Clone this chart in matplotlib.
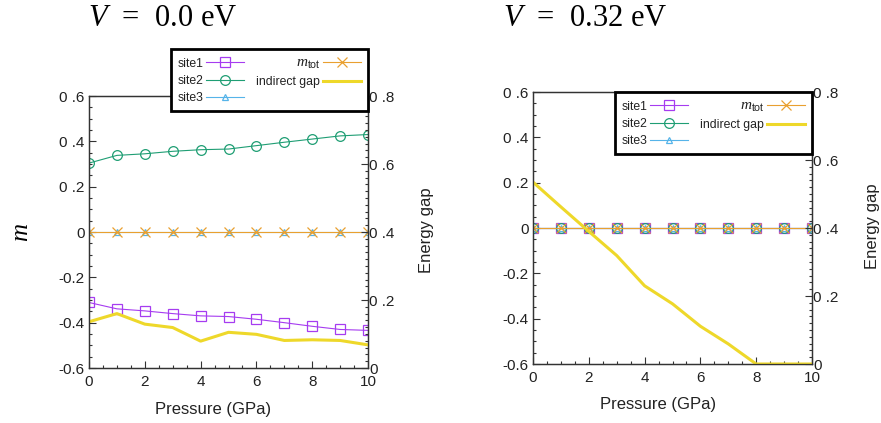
import matplotlib
matplotlib.use("Agg")
import matplotlib.pyplot as plt
from matplotlib.ticker import MultipleLocator

plt.rcParams['font.family'] = ['Liberation Sans', 'DejaVu Sans']
plt.rcParams['mathtext.fontset'] = 'custom'
plt.rcParams['mathtext.rm'] = 'Liberation Serif'
plt.rcParams['mathtext.it'] = 'Liberation Serif:italic'
plt.rcParams['mathtext.sf'] = 'Liberation Sans'

# data
pressure = [0, 1, 2, 3, 4, 5, 6, 7, 8, 9, 10]

site1_v0 = [-0.311, -0.339, -0.348, -0.360, -0.370, -0.373, -0.385, -0.400, -0.416, -0.430, -0.434]
site2_v0 = [0.304, 0.338, 0.345, 0.356, 0.363, 0.366, 0.381, 0.396, 0.410, 0.424, 0.430]
site3_v0 = [0, 0, 0, 0, 0, 0, 0, 0, 0, 0, 0]
mtot_v0 = [0, 0, 0, 0, 0, 0, 0, 0, 0, 0, 0]
gap_v0 = [0.136, 0.160, 0.129, 0.119, 0.079, 0.105, 0.099, 0.081, 0.083, 0.081, 0.068]

site1_v32 = [0, 0, 0, 0, 0, 0, 0, 0, 0, 0, 0]
site2_v32 = [0, 0, 0, 0, 0, 0, 0, 0, 0, 0, 0]
site3_v32 = [0, 0, 0, 0, 0, 0, 0, 0, 0, 0, 0]
mtot_v32 = [0, 0, 0, 0, 0, 0, 0, 0, 0, 0, 0]
gap_v32 = [0.535, 0.462, 0.390, 0.319, 0.230, 0.177, 0.111, 0.059, 0.0, 0.0, 0.0]

m_ticks = [-0.6, -0.4, -0.2, 0, 0.2, 0.4, 0.6]
m_labels = ['-0.6', '-0.4', '-0.2', '0', '0 .2', '0 .4', '0 .6']
gap_ticks = [0, 0.2, 0.4, 0.6, 0.8]
gap_labels = ['0', '0 .2', '0 .4', '0 .6', '0 .8']
x_ticks = [0, 2, 4, 6, 8, 10]

c_site1 = '#a63cf0'
c_site2 = '#1f9e74'
c_site3 = '#56b4e9'
c_mtot = '#e9a030'
c_gap = '#eed82a'
c_axis = '#333333'
c_text = '#222222'


def draw_panel(fig, rect, site1, site2, site3, mtot, gap, legend_anchor):
    ax = fig.add_axes(rect)
    ms = 7
    l1, = ax.plot(pressure, site1, color=c_site1, lw=0.8, marker='s', ms=ms,
                  mfc='none', mec=c_site1, mew=0.9, label='site1')
    l2, = ax.plot(pressure, site2, color=c_site2, lw=0.8, marker='o', ms=ms,
                  mfc='none', mec=c_site2, mew=0.9, label='site2')
    l3, = ax.plot(pressure, site3, color=c_site3, lw=0.8, marker='^', ms=5,
                  mfc='none', mec=c_site3, mew=0.9, label='site3')
    l4, = ax.plot(pressure, mtot, color=c_mtot, lw=0.8, marker='x', ms=ms,
                  mec=c_mtot, mew=0.9, label=r'$m_{\mathsf{tot}}$')
    ax.set_xlim(0, 10)
    ax.set_ylim(-0.6, 0.6)
    ax.set_xticks(x_ticks)
    ax.set_yticks(m_ticks, m_labels)
    ax.xaxis.set_minor_locator(MultipleLocator(0.5))
    ax.yaxis.set_minor_locator(MultipleLocator(0.05))
    ax.tick_params(which='both', direction='in', top=False, right=False,
                   colors=c_axis, labelcolor=c_text, labelsize=11)
    ax.tick_params(which='major', length=5, width=0.8)
    ax.tick_params(which='minor', length=2.5, width=0.8)
    ax.tick_params(axis='x', pad=5)
    ax.tick_params(axis='y', pad=3)
    for s in ax.spines.values():
        s.set_color(c_axis)
        s.set_linewidth(0.9)

    ax2 = ax.twinx()
    l5, = ax2.plot(pressure, gap, color=c_gap, lw=2.2, label='indirect gap')
    ax2.set_ylim(0, 0.8)
    ax2.set_yticks(gap_ticks, gap_labels)
    ax2.yaxis.set_minor_locator(MultipleLocator(0.02))
    ax2.tick_params(which='both', direction='in', colors=c_axis,
                    labelcolor=c_text, labelsize=11, pad=1)
    ax2.tick_params(which='major', length=5, width=0.8)
    ax2.tick_params(which='minor', length=2.5, width=0.8)
    for s in ax2.spines.values():
        s.set_color(c_axis)
        s.set_linewidth(0.9)

    leg = ax2.legend(handles=[l1, l2, l3, l4, l5], ncol=2, markerfirst=False,
                     loc='upper right', bbox_to_anchor=legend_anchor,
                     bbox_transform=fig.transFigure, borderaxespad=0,
                     fontsize=8.8, handlelength=3.1, handletextpad=0.25,
                     columnspacing=1.0, labelspacing=0.42, borderpad=0.55,
                     fancybox=False, framealpha=1, edgecolor='black')
    leg.get_frame().set_linewidth(2.0)
    for t in leg.get_texts():
        t.set_color(c_text)
    leg.get_texts()[3].set_fontsize(11)
    return ax, ax2


fig = plt.figure(figsize=(8.81, 4.23), dpi=100)
W, H = 881.0, 423.0

draw_panel(fig, [89 / W, 1 - 368 / H, 279 / W, 272 / H],
           site1_v0, site2_v0, site3_v0, mtot_v0, gap_v0, (368 / W, 1 - 49 / H))
draw_panel(fig, [533 / W, 1 - 364 / H, 279 / W, 272 / H],
           site1_v32, site2_v32, site3_v32, mtot_v32, gap_v32, (812 / W, 1 - 92 / H))

serif = ['Liberation Serif', 'DejaVu Serif']
fig.text(88 / W, 1 - 19 / H, r'$V$  =  0.0 eV', family=serif, fontsize=22,
         ha='left', va='center')
fig.text(503 / W, 1 - 19 / H, r'$V$  =  0.32 eV', family=serif, fontsize=22,
         ha='left', va='center')

fig.text(21 / W, 1 - 232 / H, r'$m$', fontsize=18, rotation=90,
         ha='center', va='center')
fig.text(427 / W, 1 - 230 / H, 'Energy gap', fontsize=12, rotation=90,
         ha='center', va='center', color=c_text)
fig.text(873 / W, 1 - 226 / H, 'Energy gap', fontsize=12, rotation=90,
         ha='center', va='center', color=c_text)
fig.text(213 / W, 1 - 409 / H, 'Pressure (GPa)', fontsize=12,
         ha='center', va='center', color=c_text)
fig.text(658 / W, 1 - 404 / H, 'Pressure (GPa)', fontsize=12,
         ha='center', va='center', color=c_text)

fig.savefig('out.png', dpi=100, facecolor='white')
